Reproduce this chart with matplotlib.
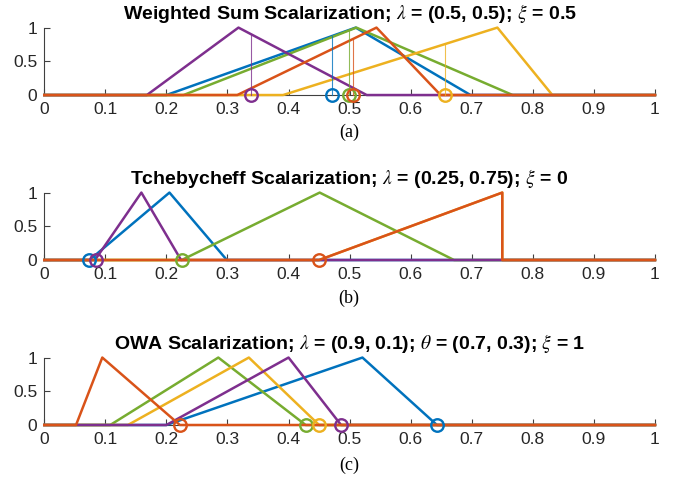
import numpy as np
import matplotlib
matplotlib.use('Agg')
import matplotlib.pyplot as plt

plt.rcParams['font.family'] = ['Liberation Sans', 'DejaVu Sans']
plt.rcParams['mathtext.fontset'] = 'stix'

# cores padrão do MATLAB, na ordem de desenho
colors = ['#0072BD', '#77AC30', '#EDB120', '#7E2F8E', '#D95319']

# (a) soma ponderada: pés esquerdo, pico, pé direito e ponto marcado
a_left = [0.200, 0.228, 0.391, 0.168, 0.316]
a_peak = [0.510, 0.511, 0.742, 0.318, 0.544]
a_right = [0.698, 0.767, 0.832, 0.528, 0.649]
a_mark = [0.471, 0.499, 0.657, 0.338, 0.505]

# (b) Tchebycheff
b_left = [0.074, 0.225, 0.450, 0.083, 0.450]
b_peak = [0.205, 0.451, 0.750, 0.159, 0.750]
b_right = [0.299, 0.671, 0.750, 0.224, 0.750]
b_mark = [0.074, 0.225, None, 0.084, 0.450]

# (c) OWA
c_left = [0.200, 0.108, 0.137, 0.200, 0.052]
c_peak = [0.521, 0.285, 0.335, 0.400, 0.095]
c_right = [0.643, 0.428, 0.450, 0.486, 0.222]
c_mark = [0.643, 0.428, 0.450, 0.486, 0.222]

titles = [
    r'Weighted Sum Scalarization; $\lambda$ = (0.5, 0.5); $\xi$ = 0.5',
    r'Tchebycheff Scalarization; $\lambda$ = (0.25, 0.75); $\xi$ = 0',
    r'OWA Scalarization; $\lambda$ = (0.9, 0.1); $\theta$ = (0.7, 0.3); $\xi$ = 1',
]
captions = ['(a)', '(b)', '(c)']
x_ticks = [0, 0.1, 0.2, 0.3, 0.4, 0.5, 0.6, 0.7, 0.8, 0.9, 1]
x_labels = ['0', '0.1', '0.2', '0.3', '0.4', '0.5', '0.6', '0.7', '0.8', '0.9', '1']

panels = [
    (a_left, a_peak, a_right, a_mark, True),
    (b_left, b_peak, b_right, b_mark, False),
    (c_left, c_peak, c_right, c_mark, False),
]

fig = plt.figure(figsize=(6.78, 4.8), dpi=100)
bottoms = [0.802, 0.4583, 0.1146]
cap_y = [0.725, 0.379, 0.031]
axis_col = '#404040'

for i, (left, peak, right, mark, vlines) in enumerate(panels):
    ax = fig.add_axes([0.0653, bottoms[i], 0.9007, 0.1405])
    # curvas triangulares sobre [0, 1]
    for k in range(len(left)):
        xs = [0, left[k], peak[k], right[k], 1]
        ys = [0, 0, 1, 0, 0]
        ax.plot(xs, ys, color=colors[k], lw=1.8, clip_on=False, zorder=3)
    # marcadores e linhas verticais
    for k in range(len(left)):
        xs = [0, left[k], peak[k], right[k], 1]
        ys = [0, 0, 1, 0, 0]
        if mark[k] is None:
            continue
        if vlines:
            h = np.interp(mark[k], xs[1:4], ys[1:4])
            ax.plot([mark[k], mark[k]], [0, h], color=colors[k], lw=0.8,
                    alpha=0.8, clip_on=False, zorder=3)
        ax.plot([mark[k]], [0], 'o', mfc='none', mec=colors[k], ms=9,
                mew=1.7, clip_on=False, zorder=4)

    ax.set_xlim(0, 1)
    ax.set_ylim(0, 1)
    ax.set_xticks(x_ticks)
    ax.set_xticklabels(x_labels)
    ax.set_yticks([0, 0.5, 1])
    ax.set_yticklabels(['0', '0.5', '1'])
    for s in ['top', 'right']:
        ax.spines[s].set_visible(False)
    for s in ['left', 'bottom']:
        ax.spines[s].set_color(axis_col)
        ax.spines[s].set_linewidth(0.8)
        ax.spines[s].set_zorder(1)
    ax.tick_params(direction='in', length=4, width=0.8, colors=axis_col,
                   labelsize=12.5, labelcolor='#262626', pad=5)
    ax.set_title(titles[i], fontsize=14, fontweight='bold', pad=6)
    fig.text(0.515, cap_y[i], captions[i], ha='center', va='center',
             fontsize=13, family='Liberation Serif')

fig.savefig('out.png', dpi=100)
